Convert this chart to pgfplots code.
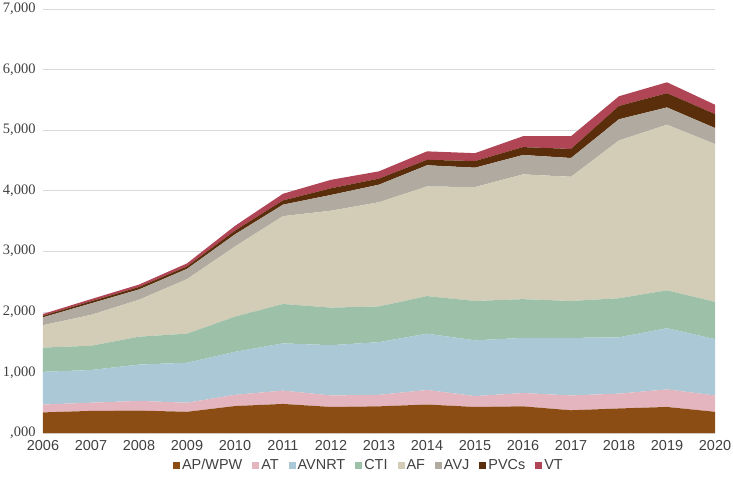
\documentclass[border=0pt]{standalone}
\usepackage{fontspec}
\setmainfont{Liberation Sans}
\newfontfamily\numserif{Liberation Serif}
\usepackage{pgfplots}
\pgfplotsset{compat=1.18}

\definecolor{cAP}{RGB}{139,77,20}
\definecolor{cAT}{RGB}{228,181,190}
\definecolor{cAVNRT}{RGB}{170,200,214}
\definecolor{cCTI}{RGB}{156,192,168}
\definecolor{cAF}{RGB}{211,205,183}
\definecolor{cAVJ}{RGB}{176,170,160}
\definecolor{cPVC}{RGB}{90,46,10}
\definecolor{cVT}{RGB}{176,69,86}
\definecolor{txt}{RGB}{64,64,64}

\begin{document}
\begin{tikzpicture}
\useasboundingbox (-43bp,-48bp) rectangle (690bp,433bp);
\begin{axis}[
  scale only axis,
  width=672bp, height=424bp,
  xmin=2006, xmax=2020,
  ymin=0, ymax=7000,
  stack plots=y,
  axis line style={draw=none},
  tick style={draw=none},
  ymajorgrids,
  grid style={draw=black!15, line width=0.6pt},
  xtick={2006,2007,2008,2009,2010,2011,2012,2013,2014,2015,2016,2017,2018,2019,2020},
  xticklabels={2006,2007,2008,2009,2010,2011,2012,2013,2014,2015,2016,2017,2018,2019,2020},
  ytick={0,1000,2000,3000,4000,5000,6000,7000},
  yticklabels={{,000},{1,000},{2,000},{3,000},{4,000},{5,000},{6,000},{7,000}},
  xticklabel style={font=\fontsize{14.5}{16}\selectfont, text=txt, yshift=-4bp},
  yticklabel style={font=\fontsize{14.5}{16}\selectfont\numserif, text=txt, xshift=-4bp},
  legend style={
    at={(0.485,0)}, anchor=center, yshift=-32bp,
    draw=none, fill=none,
    font=\fontsize{14.5}{16}\selectfont, text=txt,
    legend columns=8,
    /tikz/every even column/.append style={column sep=8bp},
  },
  legend image code/.code={\fill[#1] (0bp,-3.5bp) rectangle (7bp,3.5bp);},
  legend cell align=left,
]
% stacked layers, bottom to top
\addplot[fill=cAP, draw=none] coordinates {
(2006,340) (2007,365) (2008,370) (2009,350) (2010,445) (2011,480) (2012,430) (2013,440)
(2014,470) (2015,430) (2016,440) (2017,375) (2018,405) (2019,430) (2020,350)} \closedcycle;
\addlegendentry{AP/WPW}
\addplot[fill=cAT, draw=none] coordinates {
(2006,130) (2007,135) (2008,160) (2009,150) (2010,185) (2011,220) (2012,190) (2013,190)
(2014,240) (2015,180) (2016,220) (2017,245) (2018,245) (2019,290) (2020,270)} \closedcycle;
\addlegendentry{AT}
\addplot[fill=cAVNRT, draw=none] coordinates {
(2006,540) (2007,540) (2008,600) (2009,660) (2010,710) (2011,780) (2012,830) (2013,870)
(2014,930) (2015,920) (2016,910) (2017,950) (2018,930) (2019,1010) (2020,930)} \closedcycle;
\addlegendentry{AVNRT}
\addplot[fill=cCTI, draw=none] coordinates {
(2006,400) (2007,400) (2008,460) (2009,480) (2010,580) (2011,650) (2012,620) (2013,590)
(2014,620) (2015,650) (2016,640) (2017,610) (2018,645) (2019,625) (2020,615)} \closedcycle;
\addlegendentry{CTI}
\addplot[fill=cAF, draw=none] coordinates {
(2006,370) (2007,510) (2008,610) (2009,900) (2010,1160) (2011,1450) (2012,1600) (2013,1720)
(2014,1810) (2015,1880) (2016,2060) (2017,2050) (2018,2605) (2019,2735) (2020,2605)} \closedcycle;
\addlegendentry{AF}
\addplot[fill=cAVJ, draw=none] coordinates {
(2006,130) (2007,190) (2008,170) (2009,170) (2010,200) (2011,190) (2012,260) (2013,290)
(2014,350) (2015,320) (2016,320) (2017,310) (2018,350) (2019,285) (2020,265)} \closedcycle;
\addlegendentry{AVJ}
\addplot[fill=cPVC, draw=none] coordinates {
(2006,25) (2007,35) (2008,40) (2009,40) (2010,60) (2011,70) (2012,110) (2013,100)
(2014,90) (2015,110) (2016,130) (2017,150) (2018,220) (2019,235) (2020,230)} \closedcycle;
\addlegendentry{PVCs}
\addplot[fill=cVT, draw=none] coordinates {
(2006,30) (2007,35) (2008,40) (2009,50) (2010,80) (2011,110) (2012,140) (2013,120)
(2014,140) (2015,130) (2016,180) (2017,210) (2018,160) (2019,180) (2020,155)} \closedcycle;
\addlegendentry{VT}
\end{axis}
\end{tikzpicture}
\end{document}
